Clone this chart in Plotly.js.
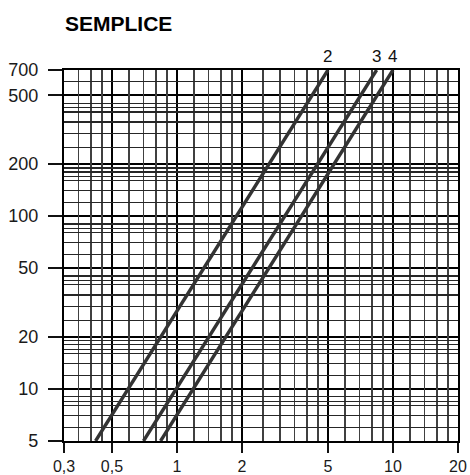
<!DOCTYPE html>
<html>
<head>
<meta charset="utf-8">
<script src="https://cdn.plot.ly/plotly-3.0.1.min.js"></script>
<style>
  html, body { margin: 0; padding: 0; background: #fff; }
  #chart { width: 470px; height: 475px; }
</style>
</head>
<body>
<div id="chart"></div>
<script>
// Series labels and values (flow on x, value on y)
const seriesNames = ['2', '3', '4'];
const flow2 = [0.42, 5];
const value2 = [5, 700];
const flow3 = [0.70, 8.4];
const value3 = [5, 700];
const flow4 = [0.84, 10];
const value4 = [5, 700];

// Axis ticks
const xTickVals = [0.3, 0.5, 1, 2, 5, 10, 20];
const xTickText = ['0,3', '0,5', '1', '2', '5', '10', '20'];
const yTickVals = [5, 10, 20, 50, 100, 200, 500, 700];
const yTickText = ['5', '10', '20', '50', '100', '200', '500', '700'];

// Minor grid lines
const xMinorVals = [0.35, 0.4, 0.45, 0.6, 0.7, 0.8, 0.9, 1.2, 1.4, 1.6, 1.8,
                    2.5, 3, 3.5, 4, 4.5, 6, 7, 8, 9, 12, 14, 16, 18];
const yMinorVals = [6, 7, 8, 8.5, 9, 12, 14, 16, 17, 18, 19,
                    25, 30, 35, 40, 42.5, 45, 60, 70, 80, 85, 90,
                    120, 140, 160, 170, 180, 190, 250, 300, 350, 400, 425, 450, 600];

const flows = [flow2, flow3, flow4];
const values = [value2, value3, value4];

const xRange = [Math.log10(0.3), Math.log10(20)];
const yRange = [Math.log10(5), Math.log10(700)];

const lineColor = '#333333';
const traces = seriesNames.map((n, i) => ({
  x: flows[i], y: values[i], type: 'scatter', mode: 'lines', name: n,
  xaxis: 'x', yaxis: 'y',
  line: { color: lineColor, width: 3.4 }, hoverinfo: 'skip', showlegend: false
}));
// carrier trace for the minor-grid overlay axes
traces.unshift({ x: [], y: [], type: 'scatter', mode: 'lines', xaxis: 'x2', yaxis: 'y2',
                 showlegend: false, hoverinfo: 'skip' });

const annotations = seriesNames.map((n, i) => ({
  x: Math.log10(flows[i][flows[i].length - 1]),
  y: Math.log10(values[i][values[i].length - 1]),
  xref: 'x', yref: 'y', text: n, showarrow: false,
  xanchor: 'center', yanchor: 'middle', yshift: 14,
  font: { family: 'Liberation Sans, Arial, sans-serif', size: 17, color: '#111' }
}));

const fam = 'Liberation Sans, Arial, sans-serif';

const layout = {
  width: 470, height: 475,
  margin: { l: 64, r: 12, t: 70, b: 34 },
  paper_bgcolor: '#fff', plot_bgcolor: '#fff',
  font: { family: fam, size: 17, color: '#1a1a1a' },
  title: {
    text: '<b>SEMPLICE</b>', xref: 'container', yref: 'container',
    x: 65 / 470, xanchor: 'left', y: 1 - 24 / 475, yanchor: 'middle',
    font: { family: fam, size: 21, color: '#000' }
  },
  xaxis2: {
    type: 'log', range: xRange, overlaying: 'x', anchor: 'y2', side: 'bottom',
    tickmode: 'array', tickvals: xMinorVals, showticklabels: false, ticks: '',
    showgrid: true, gridcolor: '#404040', gridwidth: 1.3,
    showline: false, zeroline: false, fixedrange: true
  },
  yaxis2: {
    type: 'log', range: yRange, overlaying: 'y', anchor: 'x2', side: 'left',
    tickmode: 'array', tickvals: yMinorVals, showticklabels: false, ticks: '',
    showgrid: true, gridcolor: '#262626', gridwidth: 1.2,
    showline: false, zeroline: false, fixedrange: true
  },
  xaxis: {
    type: 'log', range: xRange,
    tickmode: 'array', tickvals: xTickVals, ticktext: xTickText,
    ticks: 'outside', ticklen: 10, tickwidth: 1.8, tickcolor: '#111',
    showgrid: true, gridcolor: '#000', gridwidth: 2.1,
    showline: true, linecolor: '#000', linewidth: 2.2, mirror: true,
    zeroline: false, ticklabelstandoff: 0,
    tickfont: { family: fam, size: 16, color: '#1a1a1a' },
    fixedrange: true
  },
  yaxis: {
    type: 'log', range: yRange,
    tickmode: 'array', tickvals: yTickVals, ticktext: yTickText,
    ticks: 'outside', ticklen: 14, tickwidth: 1.8, tickcolor: '#111',
    showgrid: true, gridcolor: '#000', gridwidth: 2.1,
    showline: true, linecolor: '#000', linewidth: 2.2, mirror: true,
    zeroline: false, ticklabelstandoff: 6,
    tickfont: { family: fam, size: 18, color: '#1a1a1a' }, fixedrange: true
  },
  annotations: annotations,
  showlegend: false
};

Plotly.newPlot('chart', traces, layout, { displayModeBar: false, staticPlot: true });
</script>
</body>
</html>
